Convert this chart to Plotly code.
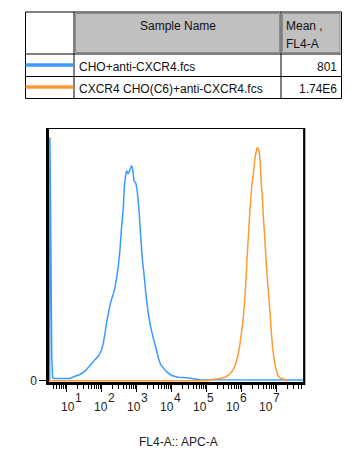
import math
import plotly.graph_objects as go

# ---------------- data (x in log10 FL4-A units, y = % of max count) ----------------
blue_log = [0.505, 0.512, 0.53, 0.545, 0.555, 0.565, 0.59, 0.62, 1.086, 1.229, 1.371,
            1.514, 1.657, 1.8, 1.895, 1.99, 2.038, 2.086, 2.133, 2.181, 2.229,
            2.276, 2.324, 2.371, 2.419, 2.467, 2.514, 2.562, 2.61, 2.638, 2.676,
            2.705, 2.752, 2.8, 2.848, 2.876, 2.914, 2.971, 3.01, 3.057, 3.105,
            3.152, 3.2, 3.257, 3.324, 3.39, 3.467, 3.543, 3.61, 3.676, 3.752,
            3.848, 3.99, 4.181, 4.419, 4.61, 4.8, 7.74]
blue_cnt = [0, 96.6, 69.8, 43.6, 26, 9, 1.2, 0.9, 0.9, 1.8, 2.5,
            3.8, 6.1, 8.4, 9.7, 12.3, 14.9, 18.8, 23.4, 26.7, 30,
            32.5, 34.5, 37.1, 41, 45.6, 52, 61.3, 69, 77, 81.6,
            83.5, 82.2, 83.8, 85.5, 84, 79.6, 78.3, 75, 67.8, 57.4,
            48.2, 42.4, 33.9, 26.7, 21.4, 16.9, 12.9, 9, 6.4, 5.1,
            3.5, 2.1, 1.4, 1.2, 0.8, 0.4, 0.3]

orange_log = [0.49, 5.0, 5.133, 5.371, 5.514, 5.61, 5.705, 5.8, 5.867, 5.924, 5.971,
              6.019, 6.067, 6.105, 6.133, 6.171, 6.21, 6.248, 6.286, 6.324, 6.362,
              6.4, 6.438, 6.467, 6.495, 6.524, 6.552, 6.581, 6.61, 6.648, 6.686,
              6.724, 6.762, 6.8, 6.838, 6.876, 6.914, 6.952, 6.99, 7.038, 7.105,
              7.181, 7.295]
orange_cnt = [0, 0, 0.5, 0.9, 1.4, 2.2, 3.5, 5.8, 9, 12.9, 17.5,
              22.7, 29.9, 37.8, 45.6, 54.8, 63.9, 71.8, 78.3, 82.2, 87.5,
              90.7, 92.7, 92, 90.7, 86.1, 78.3, 73.1, 65.2, 57.4, 48.2,
              40.4, 33.9, 27.3, 19.5, 12.9, 9, 5.8, 3.8, 1.8, 1.0,
              0.7, 0]

sample_names = ["CHO+anti-CXCR4.fcs", "CXCR4 CHO(C6)+anti-CXCR4.fcs"]
sample_means = ["801", "1.74E6"]
decades = [1, 2, 3, 4, 5, 6, 7]
x_title = "FL4-A:: APC-A"

BLUE = "#3a9bff"
ORANGE = "#ff9a33"
FONT = "Liberation Sans, Arial, sans-serif"
colors = [BLUE, ORANGE]

W, H = 351, 464
ML, MR, MT, MB = 49, 48, 129, 82
X0, X1 = ML, W - MR
YT, YB = MT, H - MB


def px(X):
    return (X - X0) / (X1 - X0)


def py(Y):
    return (YB - Y) / (YB - YT)


fig = go.Figure()
fig.add_trace(go.Scatter(x=blue_log, y=blue_cnt, mode="lines",
                         line=dict(color=BLUE, width=1.5, simplify=False), hoverinfo="skip"))
fig.add_trace(go.Scatter(x=orange_log, y=orange_cnt, mode="lines",
                         line=dict(color=ORANGE, width=1.5, simplify=False), hoverinfo="skip"))

minor_vals = []
for e in range(0, 8):
    for k in range(2, 10):
        minor_vals.append(e + math.log10(k))

fig.update_xaxes(range=[0.486, 7.743], showgrid=False, zeroline=False,
                 showline=True, linecolor="black", linewidth=2.5,
                 tickmode="array", tickvals=decades, showticklabels=False,
                 ticks="outside", ticklen=7, tickwidth=1, tickcolor="black",
                 minor=dict(tickmode="array", tickvals=minor_vals, ticks="outside",
                            ticklen=4, tickwidth=1, tickcolor="black"))
fig.update_yaxes(range=[-0.5, 100], showgrid=False, zeroline=False,
                 showline=True, linecolor="black", linewidth=2.5,
                 tickmode="array", tickvals=[0], ticktext=["0"],
                 ticks="outside", ticklen=7, tickwidth=1, tickcolor="black",
                 tickfont=dict(family=FONT, size=12, color="#222"))

shapes = []
annotations = []
# top and right frame lines
shapes.append(dict(type="line", xref="paper", yref="paper", x0=px(46), x1=px(305),
                   y0=py(128.5), y1=py(128.5), line=dict(color="black", width=1.2)))
shapes.append(dict(type="line", xref="paper", yref="paper", x0=px(304.2), x1=px(304.2),
                   y0=py(128), y1=py(385), line=dict(color="black", width=2.2)))

# tick labels 10^n
for i, n in enumerate(decades):
    dx = 1.5 - 2 * i
    annotations.append(dict(x=n, y=py(406.5), xref="x", yref="paper", text="10",
                            showarrow=False, xanchor="center", yanchor="middle",
                            xshift=dx, font=dict(family=FONT, size=12, color="#222")))
    annotations.append(dict(x=n, y=py(398), xref="x", yref="paper", text=str(n),
                            showarrow=False, xanchor="center", yanchor="middle",
                            xshift=dx + 10, font=dict(family=FONT, size=12, color="#222")))

annotations.append(dict(x=px(178), y=py(441.5), xref="paper", yref="paper", text=x_title,
                        showarrow=False, xanchor="center", yanchor="middle",
                        font=dict(family=FONT, size=12, color="#222")))

# ---------------- table ----------------
TL, TR, TT, TBm = 25.5, 341.5, 12, 98.5
C1, C2 = 74, 281
R1, R2 = 54, 76.5
for (a, b) in [(C1 + 1.5, C2 - 1.5), (C2 + 1.5, TR - 1.5)]:
    shapes.append(dict(type="rect", xref="paper", yref="paper", x0=px(a), x1=px(b),
                       y0=py(TT + 1.5), y1=py(R1 - 1.5), fillcolor="#c0c0c0",
                       line=dict(color="#8a8a8a", width=1)))
shapes.append(dict(type="rect", xref="paper", yref="paper", x0=px(TL), x1=px(TR),
                   y0=py(TT), y1=py(TBm), line=dict(color="black", width=1)))
for X in (C1, C2):
    shapes.append(dict(type="line", xref="paper", yref="paper", x0=px(X), x1=px(X),
                       y0=py(TT), y1=py(TBm), line=dict(color="black", width=1)))
for Y in (R1, R2):
    shapes.append(dict(type="line", xref="paper", yref="paper", x0=px(TL), x1=px(TR),
                       y0=py(Y), y1=py(Y), line=dict(color="black", width=1)))

tfont = dict(family=FONT, size=12, color="#111")
annotations.append(dict(x=px((C1 + C2) / 2), y=py(26), xref="paper", yref="paper",
                        text="Sample Name", showarrow=False, xanchor="center",
                        yanchor="middle", font=tfont))
annotations.append(dict(x=px(283.5), y=py(26), xref="paper", yref="paper",
                        text="Mean ,", showarrow=False, xanchor="left",
                        yanchor="middle", font=tfont))
annotations.append(dict(x=px(283.5), y=py(44), xref="paper", yref="paper",
                        text="FL4-A", showarrow=False, xanchor="left",
                        yanchor="middle", font=tfont))
row_y = [66.5, 88.5]
for i in range(2):
    shapes.append(dict(type="line", xref="paper", yref="paper", x0=px(TL), x1=px(C1 - 0.5),
                       y0=py(row_y[i] - 1.5), y1=py(row_y[i] - 1.5),
                       line=dict(color=colors[i], width=3.5)))
    annotations.append(dict(x=px(76.5), y=py(row_y[i]), xref="paper", yref="paper",
                            text=sample_names[i], showarrow=False, xanchor="left",
                            yanchor="middle", font=tfont))
    annotations.append(dict(x=px(339), y=py(row_y[i]), xref="paper", yref="paper",
                            text=sample_means[i], showarrow=False, xanchor="right",
                            yanchor="middle", font=tfont))

fig.update_layout(width=W, height=H, margin=dict(l=ML, r=MR, t=MT, b=MB, pad=0),
                  paper_bgcolor="white", plot_bgcolor="white", showlegend=False,
                  shapes=shapes, annotations=annotations,
                  font=dict(family=FONT, size=12, color="#222"))

fig.write_html("out.html")
